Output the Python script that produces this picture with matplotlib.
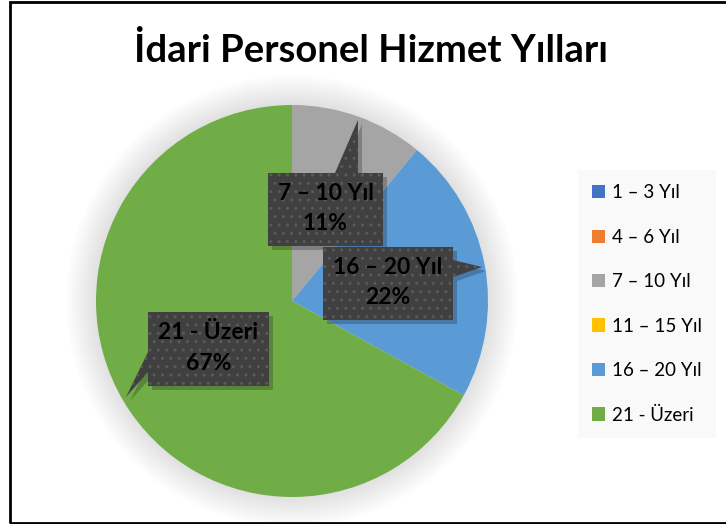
import matplotlib
matplotlib.use("Agg")
import matplotlib.pyplot as plt
from matplotlib.patches import Polygon, Circle, Rectangle

plt.rcParams['font.family'] = ['Lato', 'DejaVu Sans']
plt.rcParams['hatch.linewidth'] = 1.0

title = "İdari Personel Hizmet Yılları"
categories = ["1 – 3 Yıl", "4 – 6 Yıl", "7 – 10 Yıl", "11 – 15 Yıl", "16 – 20 Yıl", "21 - Üzeri"]
values = [0, 0, 11, 0, 22, 67]
colors = ["#4472C4", "#ED7D31", "#A5A5A5", "#FFC000", "#5B9BD5", "#70AD47"]
pct_labels = ["0%", "0%", "11%", "0%", "22%", "67%"]

W, H = 726, 524
fig = plt.figure(figsize=(W / 100, H / 100), dpi=100)
ax = fig.add_axes([0, 0, 1, 1])

cx, cy, R = 292, 524 - 301, 196

# soft glow around the pie
for i in range(15):
    r = R + 30 - i * 2
    ax.add_patch(Circle((cx, cy), r, facecolor='#000000', alpha=0.006, edgecolor='none', zorder=1))

wedges, _ = ax.pie(values, colors=colors, startangle=90, counterclock=False,
                   center=(cx, cy), radius=R, frame=True,
                   wedgeprops=dict(linewidth=0, zorder=2))
ax.set_xlim(0, W)
ax.set_ylim(0, H)
ax.set_aspect('equal')
ax.axis('off')

# border
ax.add_patch(Rectangle((10, 1.5), W + 20, H - 3.5, fill=False, edgecolor='black', linewidth=2, zorder=10))

ax.text(371, 524 - 50, title, ha='center', va='center', fontsize=27.5, fontweight='bold', color='black', zorder=5)

# callouts: box (x0, y_top, x1, y_bottom), pointer tip, pointer base points (pixels, top-origin)
callouts = {
    2: dict(box=(268, 173, 383, 246), tip=(358, 120), base=((335, 173), (358, 173))),
    4: dict(box=(323, 247, 453, 320), tip=(482, 267), base=((453, 260), (453, 277))),
    5: dict(box=(148, 312, 269, 386), tip=(126, 397), base=((148, 352), (148, 372))),
}


def to_ax(p):
    return (p[0], H - p[1])


for idx, c in callouts.items():
    x0, y0, x1, y1 = c['box']
    b1, b2 = c['base']
    tip = c['tip']
    if b1[1] == y0 and b2[1] == y0:
        pts = [(x0, y0), b1, tip, b2, (x1, y0), (x1, y1), (x0, y1)]
    elif b1[0] == x1:
        pts = [(x0, y0), (x1, y0), b1, tip, b2, (x1, y1), (x0, y1)]
    else:
        pts = [(x0, y0), (x1, y0), (x1, y1), (x0, y1), b2, tip, b1]
    shadow = [to_ax((p[0] + 4, p[1] + 4)) for p in pts]
    ax.add_patch(Polygon(shadow, closed=True, facecolor='black', alpha=0.22, edgecolor='none', zorder=6))
    ax.add_patch(Polygon([to_ax(p) for p in pts], closed=True, facecolor='#404040',
                         edgecolor='#5a5a5a', hatch='..', linewidth=0, zorder=7))
    ax.text((x0 + x1) / 2, H - (y0 + y1) / 2 + 1, f"{categories[idx]}\n{pct_labels[idx]}",
            ha='center', va='center', fontsize=16.5, fontweight='bold', color='black',
            linespacing=1.55, zorder=8)

leg = ax.legend(wedges, categories, loc='center',
                bbox_to_anchor=(576 / W, 1 - 440 / H, 142 / W, 272 / H),
                frameon=True, fancybox=False, fontsize=13.5,
                labelspacing=1.46, handlelength=0.7, handleheight=0.7,
                handletextpad=0.35, borderpad=0.75, borderaxespad=0)
leg.get_frame().set_facecolor('#f8f8f8')
leg.get_frame().set_edgecolor('none')
leg.set_zorder(9)

fig.savefig('out.png', dpi=100)
